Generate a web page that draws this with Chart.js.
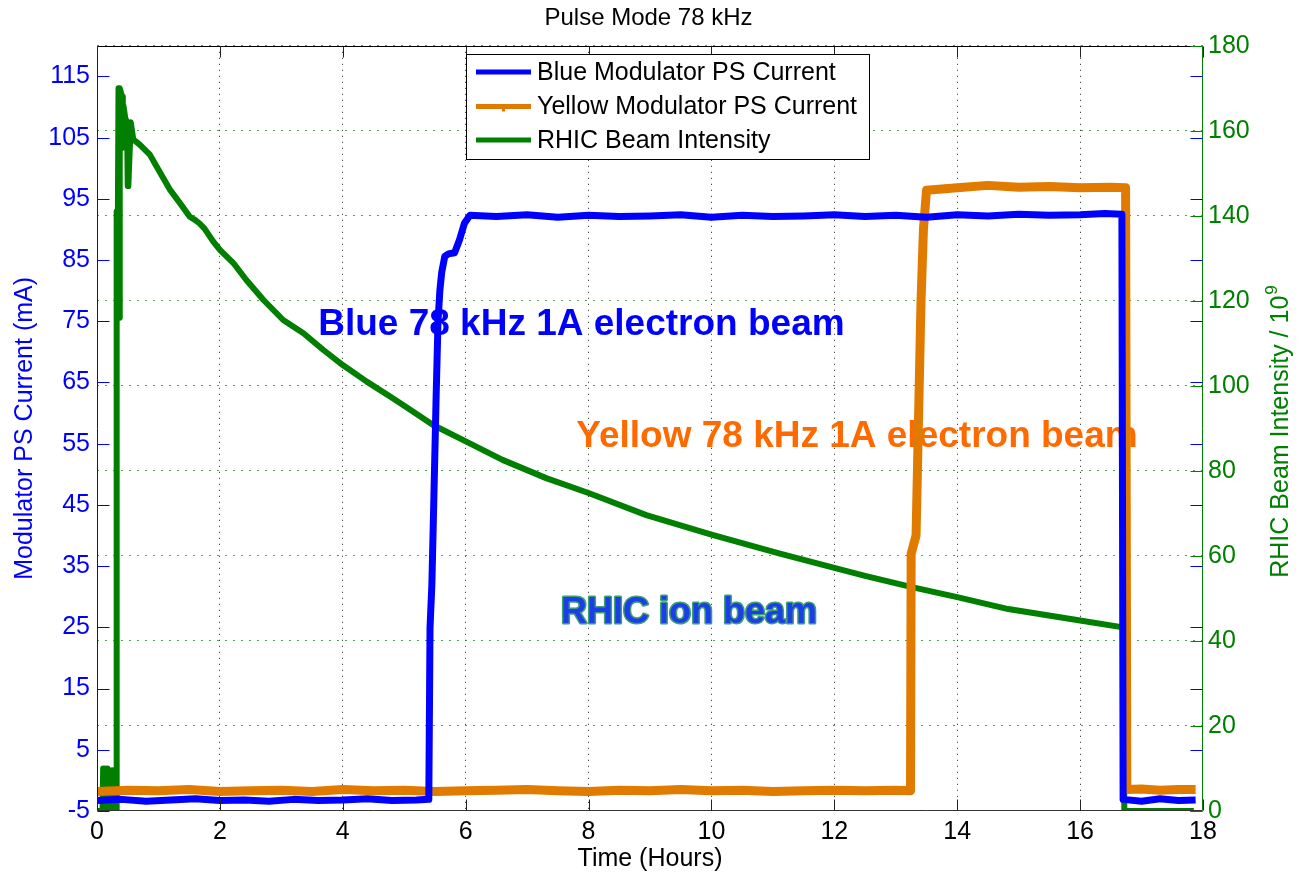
<!DOCTYPE html>
<html>
<head>
<meta charset="utf-8">
<title>Pulse Mode 78 kHz</title>
<script src="https://cdn.jsdelivr.net/npm/chart.js@4.4.1/dist/chart.umd.min.js"></script>
<style>
    html, body { margin: 0; padding: 0; background: #fff; }
    #wrap { width: 1297px; height: 874px; }
</style>
</head>
<body>
<div id="wrap"><canvas id="pulseChart"></canvas></div>
<script>
// Axis ticks
const xTicks = [0, 2, 4, 6, 8, 10, 12, 14, 16, 18];
const currentTicks = [-5, 5, 15, 25, 35, 45, 55, 65, 75, 85, 95, 105, 115];
const intensityTicks = [0, 20, 40, 60, 80, 100, 120, 140, 160, 180];

// Blue modulator PS current (mA) vs time (hours)
const blueTime = [0, 0.4, 0.8, 1.2, 1.6, 2.0, 2.4, 2.8, 3.2, 3.6, 4.0, 4.4, 4.8, 5.2,
    5.40, 5.42, 5.45, 5.48, 5.52, 5.55, 5.58, 5.61, 5.66, 5.72, 5.82, 5.90, 5.98, 6.07,
    6.5, 7.0, 7.5, 8.0, 8.5, 9.0, 9.5, 10.0, 10.5, 11.0, 11.5, 12.0, 12.5, 13.0, 13.5,
    14.0, 14.5, 15.0, 15.5, 16.0, 16.4, 16.68, 16.70, 17.0, 17.3, 17.6, 17.88];
const blueCurrent = [-3.3, -3.1, -3.4, -3.2, -3.0, -3.3, -3.2, -3.4, -3.1, -3.3, -3.2, -3.0, -3.3, -3.2,
    -3.1, 25, 32, 45, 63, 75, 80, 83, 85.6, 86, 86.2, 88.3, 91, 92.3,
    92.1, 92.4, 92.0, 92.3, 92.1, 92.2, 92.4, 92.0, 92.3, 92.1, 92.2, 92.4, 92.1, 92.3, 92.0,
    92.4, 92.2, 92.5, 92.3, 92.4, 92.6, 92.5, -3.1, -3.4, -3.0, -3.3, -3.2];

// Yellow modulator PS current (mA)
const yellowTime = [0, 0.5, 1.0, 1.5, 2.0, 2.5, 3.0, 3.5, 4.0, 4.5, 5.0, 5.5, 6.0, 6.5,
    7.0, 7.5, 8.0, 8.5, 9.0, 9.5, 10.0, 10.5, 11.0, 11.5, 12.0, 12.5, 13.0,
    13.24, 13.25, 13.33, 13.41, 13.45, 13.50,
    14.0, 14.5, 15.0, 15.5, 16.0, 16.5, 16.74, 16.76, 17.0, 17.3, 17.6, 17.88];
const yellowCurrent = [-1.8, -1.6, -1.7, -1.5, -1.8, -1.7, -1.6, -1.8, -1.5, -1.7, -1.6, -1.8, -1.7, -1.6,
    -1.5, -1.7, -1.8, -1.6, -1.7, -1.5, -1.7, -1.6, -1.8, -1.7, -1.6, -1.7, -1.6,
    -1.7, 37, 40, 78, 90, 96.4,
    96.8, 97.2, 96.9, 97.0, 96.8, 96.9, 96.8, -1.5, -1.4, -1.6, -1.5, -1.5];

// RHIC beam intensity (10^9)
const greenTime = [0, 0.09, 0.10, 0.12, 0.13, 0.15, 0.17, 0.19, 0.21, 0.23,
    0.25, 0.27, 0.29, 0.30, 0.31, 0.32, 0.34, 0.35, 0.36, 0.37,
    0.41, 0.42, 0.43, 0.46, 0.49, 0.50, 0.51, 0.55, 0.59, 0.70,
    0.86, 0.97, 1.19, 1.35, 1.51, 1.60, 1.67, 1.75, 1.89, 2.00,
    2.22, 2.43, 2.71, 3.03, 3.36, 3.68, 4.00, 4.39, 4.77, 5.00,
    5.47, 6.01, 6.60, 7.31, 8.00, 8.94, 10.00, 11.10, 12.00, 12.50,
    13.28, 14.00, 14.83, 16.00, 16.70, 16.72, 17.85];
const greenIntensity = [0, 0, 10, 0, 10, 1, 10, 0, 9.6, 0,
    9.6, 0, 9.6, 0, 0, 141, 141, 170, 116, 170,
    168, 156, 166, 163, 162, 147, 147, 162, 158, 156.7,
    154.4, 151.6, 146.1, 143, 139.8, 139, 138.2, 137, 134, 132,
    128.9, 124.9, 120.2, 115.5, 112.4, 108.5, 104.9, 101, 97.5, 95.3,
    90.8, 86.9, 82.6, 78.3, 74.8, 69.6, 65, 60.6, 57.2, 55.3,
    52.6, 50.3, 47.5, 44.8, 43.2, 0, 0];

const seriesLabels = ['Blue Modulator PS Current', 'Yellow Modulator PS Current', 'RHIC Beam Intensity'];
const seriesColors = ['#0000ff', '#e07b00', '#007f00'];

const FONT = "'Liberation Sans', Arial, Helvetica, sans-serif";

function toPoints(xs, ys) {
    return xs.map((x, i) => ({ x: x, y: ys[i] }));
}

// text placed on the plot, in data units (hours, mA)
const notes = [
    { text: 'Blue 78 kHz 1A electron beam', t: 3.6, mA: 72.8, color: '#0000ff' },
    { text: 'Yellow 78 kHz 1A electron beam', t: 7.8, mA: 54.5, color: '#ff6a00' },
    { text: 'RHIC ion beam', t: 7.55, mA: 25.7, color: '#1a3fe6', outline: '#3f9f75' }
];

const decorPlugin = {
    id: 'matlabDecor',
    beforeDatasetsDraw(chart) {
        const ctx = chart.ctx;
        const xs = chart.scales.x;
        const yl = chart.scales.yCurrent;
        ctx.save();
        ctx.textAlign = 'left';
        ctx.textBaseline = 'alphabetic';
        notes.forEach(n => {
            const px = xs.getPixelForValue(n.t);
            const py = yl.getPixelForValue(n.mA);
            if (n.outline) {
                ctx.font = 'bold 36px ' + FONT;
                ctx.lineWidth = 3;
                ctx.strokeStyle = n.outline;
                ctx.lineJoin = 'round';
                ctx.strokeText(n.text, px, py);
            } else {
                ctx.font = 'bold 37px ' + FONT;
            }
            ctx.fillStyle = n.color;
            ctx.fillText(n.text, px, py);
        });
        ctx.restore();
    },
    afterDatasetsDraw(chart) {
        const ctx = chart.ctx;
        const area = chart.chartArea;
        const xs = chart.scales.x;
        const yl = chart.scales.yCurrent;
        const yr = chart.scales.yIntensity;
        const L = Math.round(area.left) + 0.5;
        const R = Math.round(area.right) - 0.5;
        const T = Math.round(area.top) + 0.5;
        const B = Math.round(area.bottom) - 0.5;
        ctx.save();
        ctx.lineWidth = 1;

        // frame
        ctx.strokeStyle = '#000';
        ctx.beginPath(); ctx.moveTo(L, T); ctx.lineTo(R, T); ctx.stroke();
        ctx.strokeStyle = '#333';
        ctx.beginPath(); ctx.moveTo(L, B); ctx.lineTo(R, B); ctx.stroke();
        ctx.strokeStyle = '#0000ff';
        ctx.beginPath(); ctx.moveTo(L, T); ctx.lineTo(L, B); ctx.stroke();
        ctx.strokeStyle = '#008000';
        ctx.beginPath(); ctx.moveTo(R, T); ctx.lineTo(R, B); ctx.stroke();

        // inward tick marks
        ctx.strokeStyle = '#0000ff';
        currentTicks.forEach(v => {
            const y = Math.round(yl.getPixelForValue(v)) + 0.5;
            ctx.beginPath(); ctx.moveTo(L, y); ctx.lineTo(L + 12, y); ctx.stroke();
            ctx.beginPath(); ctx.moveTo(R - 12, y); ctx.lineTo(R, y); ctx.stroke();
        });
        ctx.strokeStyle = '#008000';
        intensityTicks.forEach(v => {
            const y = Math.round(yr.getPixelForValue(v)) + 0.5;
            ctx.beginPath(); ctx.moveTo(R - 12, y); ctx.lineTo(R, y); ctx.stroke();
        });
        ctx.strokeStyle = '#222';
        xTicks.forEach(v => {
            const x = Math.round(xs.getPixelForValue(v)) + 0.5;
            ctx.beginPath(); ctx.moveTo(x, B); ctx.lineTo(x, B - 11); ctx.stroke();
            ctx.beginPath(); ctx.moveTo(x, T); ctx.lineTo(x, T + 11); ctx.stroke();
        });

        // legend box
        const lx = 466, ly = 54, lw = 403, lh = 105;
        ctx.fillStyle = '#fff';
        ctx.fillRect(lx, ly, lw, lh);
        ctx.strokeStyle = '#000';
        ctx.strokeRect(lx + 0.5, ly + 0.5, lw, lh);
        const rows = [72, 106.5, 140];
        ctx.font = '25px ' + FONT;
        ctx.textAlign = 'left';
        ctx.textBaseline = 'middle';
        seriesLabels.forEach((label, i) => {
            ctx.strokeStyle = seriesColors[i];
            ctx.lineWidth = 5;
            ctx.beginPath(); ctx.moveTo(476, rows[i]); ctx.lineTo(531, rows[i]); ctx.stroke();
            ctx.fillStyle = '#000';
            ctx.fillText(label, 537, rows[i] + 1);
        });
        // small marker on the yellow legend sample
        ctx.fillStyle = seriesColors[1];
        ctx.fillRect(502, rows[1] + 2, 3, 3);

        // right axis title, reading bottom to top, with superscript
        const main = 'RHIC Beam Intensity / 10';
        ctx.font = '25px ' + FONT;
        const wMain = ctx.measureText(main).width;
        ctx.font = '17px ' + FONT;
        const wSup = ctx.measureText('9').width;
        ctx.translate(1281, 432);
        ctx.rotate(-Math.PI / 2);
        ctx.fillStyle = '#008000';
        ctx.textBaseline = 'middle';
        const start = -(wMain + wSup) / 2;
        ctx.font = '25px ' + FONT;
        ctx.fillText(main, start, 0);
        ctx.font = '17px ' + FONT;
        ctx.fillText('9', start + wMain + 1, -9);
        ctx.restore();
    }
};

const transparent = 'rgba(0,0,0,0)';

new Chart(document.getElementById('pulseChart'), {
    type: 'line',
    data: {
        datasets: [
            {
                label: seriesLabels[0],
                data: toPoints(blueTime, blueCurrent),
                yAxisID: 'yCurrent',
                borderColor: seriesColors[0],
                borderWidth: 7,
                borderJoinStyle: 'round',
                pointRadius: 0,
                tension: 0
            },
            {
                label: seriesLabels[1],
                data: toPoints(yellowTime, yellowCurrent),
                yAxisID: 'yCurrent',
                borderColor: seriesColors[1],
                borderWidth: 9,
                borderJoinStyle: 'round',
                pointRadius: 0,
                tension: 0
            },
            {
                label: seriesLabels[2],
                data: toPoints(greenTime, greenIntensity),
                yAxisID: 'yIntensity',
                borderColor: seriesColors[2],
                borderWidth: 6,
                borderJoinStyle: 'round',
                pointRadius: 0,
                tension: 0
            }
        ]
    },
    options: {
        responsive: true,
        maintainAspectRatio: false,
        animation: false,
        layout: { padding: 0 },
        plugins: {
            legend: { display: false },
            tooltip: { enabled: false },
            title: {
                display: true,
                text: 'Pulse Mode 78 kHz',
                color: '#000',
                font: { family: FONT, size: 24, weight: 'normal' },
                padding: { top: 4, bottom: 13 }
            }
        },
        scales: {
            x: {
                type: 'linear',
                min: 0,
                max: 18,
                afterBuildTicks: s => { s.ticks = xTicks.map(v => ({ value: v })); },
                afterFit: s => { s.height = 63; },
                ticks: {
                    color: '#000',
                    font: { family: FONT, size: 25 },
                    padding: 6,
                    maxRotation: 0,
                    autoSkip: false
                },
                grid: {
                    drawTicks: false,
                    lineWidth: 1,
                    color: c => (c.tick && (c.tick.value === 0 || c.tick.value === 18)) ? transparent : '#222'
                },
                border: { display: false, dash: [1, 5] },
                title: {
                    display: true,
                    text: 'Time (Hours)',
                    color: '#000',
                    font: { family: FONT, size: 25 },
                    padding: { top: 0, bottom: 0 }
                }
            },
            yCurrent: {
                type: 'linear',
                position: 'left',
                min: -5,
                max: 120,
                afterBuildTicks: s => { s.ticks = currentTicks.map(v => ({ value: v })); },
                afterFit: s => { s.width = 97; },
                ticks: {
                    color: '#0000ff',
                    font: { family: FONT, size: 25 },
                    padding: 7,
                    autoSkip: false
                },
                grid: { display: false, drawTicks: false },
                border: { display: false },
                title: {
                    display: true,
                    text: 'Modulator PS Current (mA)',
                    color: '#0000ff',
                    font: { family: FONT, size: 25 },
                    padding: { top: 10, bottom: 0 }
                }
            },
            yIntensity: {
                type: 'linear',
                position: 'right',
                min: 0,
                max: 180,
                afterBuildTicks: s => { s.ticks = intensityTicks.map(v => ({ value: v })); },
                afterFit: s => { s.width = 94; },
                ticks: {
                    color: '#008000',
                    font: { family: FONT, size: 25 },
                    padding: 5,
                    autoSkip: false
                },
                grid: {
                    drawTicks: false,
                    lineWidth: 1,
                    color: c => (c.tick && c.tick.value === 0) ? transparent : 'rgba(40,150,40,0.85)'
                },
                border: { display: false, dash: [2, 6] }
            }
        }
    },
    plugins: [decorPlugin]
});
</script>
</body>
</html>
